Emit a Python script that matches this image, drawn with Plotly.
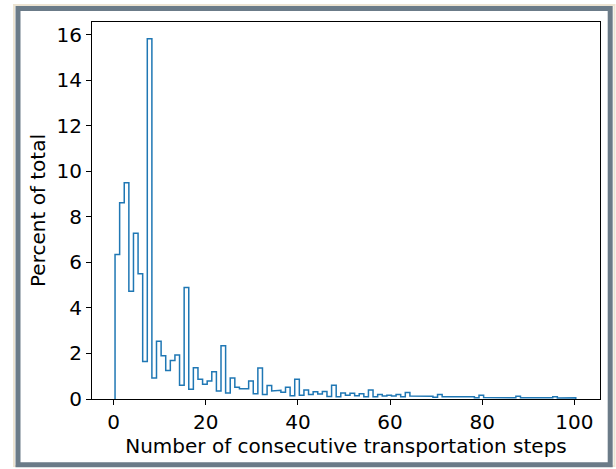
import numpy as np
import plotly.graph_objects as go

# Histogram data: percent of total per bin (bins centred on integers 1..100)
bin_edges = list(np.round(np.arange(0.3, 100.31, 1.0), 3))
percent = [
    6.35, 8.62, 9.50, 4.73, 7.28, 5.50, 1.65, 15.82, 0.92, 2.54,
    1.90, 1.25, 1.69, 1.93, 0.60, 4.90, 0.43, 1.37, 0.87, 0.65,
    0.79, 1.20, 0.35, 2.34, 0.26, 0.92, 0.52, 0.45, 0.45, 0.79,
    0.23, 1.36, 0.20, 0.59, 0.35, 0.38, 0.30, 0.52, 0.14, 0.87,
    0.17, 0.39, 0.20, 0.32, 0.22, 0.33, 0.11, 0.60, 0.10, 0.26,
    0.17, 0.25, 0.14, 0.23, 0.10, 0.40, 0.10, 0.20, 0.13, 0.17,
    0.13, 0.20, 0.10, 0.29, 0.13, 0.10, 0.12, 0.10, 0.12, 0.08,
    0.20, 0.10, 0.08, 0.10, 0.08, 0.10, 0.07, 0.10, 0.06, 0.16,
    0.06, 0.08, 0.06, 0.08, 0.06, 0.07, 0.05, 0.12, 0.05, 0.06,
    0.05, 0.06, 0.05, 0.06, 0.05, 0.10, 0.04, 0.05, 0.04, 0.05,
]
x_ticks = [0, 20, 40, 60, 80, 100]
y_ticks = [0, 2, 4, 6, 8, 10, 12, 14, 16]
x_label = "Number of consecutive transportation steps"
y_label = "Percent of total"

# Build step outline (matplotlib histtype='step')
e = np.array(bin_edges)
v = np.array(percent)
xs = np.concatenate([[e[0]], np.ravel(np.column_stack([e[:-1], e[1:]])), [e[-1]]])
ys = np.concatenate([[0], np.repeat(v, 2), [0]])

fig = go.Figure()
fig.add_trace(go.Scatter(
    x=xs, y=ys, mode="lines",
    line=dict(color="#1f77b4", width=1.5),
    hoverinfo="skip", showlegend=False,
))

W, H = 616, 469
L, R, T, B = 92, 600, 22, 399
pw, ph = R - L, B - T

def px_x(p):
    return (p - L) / pw

def px_y(p):
    return (B - p) / ph

font = "DejaVu Sans, Verdana, sans-serif"
fs = 20
fig.update_layout(
    width=W, height=H,
    margin=dict(l=L, r=W - R, t=T, b=H - B, pad=0),
    paper_bgcolor="white", plot_bgcolor="white",
    font=dict(family=font, size=fs, color="black"),
    xaxis=dict(
        range=[-4.7, 105.56], tickvals=x_ticks, ticks="outside", ticklen=5,
        tickwidth=1, tickcolor="black", showgrid=False, zeroline=False,
        showline=True, linecolor="black", linewidth=1, mirror=True,
        title=dict(text=x_label, standoff=0, font=dict(size=fs)),
        tickfont=dict(size=fs),
    ),
    yaxis=dict(
        range=[0, 16.56], tickvals=y_ticks, ticks="outside", ticklen=5,
        tickwidth=1, tickcolor="black", showgrid=False, zeroline=False,
        showline=True, linecolor="black", linewidth=1, mirror=True,
        title=dict(text=y_label, standoff=5, font=dict(size=fs)),
        tickfont=dict(size=fs),
    ),
    shapes=[
        dict(type="rect", xref="paper", yref="paper", layer="below",
             x0=px_x(14), x1=px_x(614.5), y0=px_y(466), y1=px_y(5),
             line=dict(color="#ede4d2", width=2), fillcolor="rgba(0,0,0,0)"),
        dict(type="rect", xref="paper", yref="paper", layer="above",
             x0=px_x(18), x1=px_x(610.2), y0=px_y(464.8), y1=px_y(8.5),
             line=dict(color="#6b7b88", width=5), fillcolor="rgba(0,0,0,0)"),
    ],
)

fig.write_html("out.html")
